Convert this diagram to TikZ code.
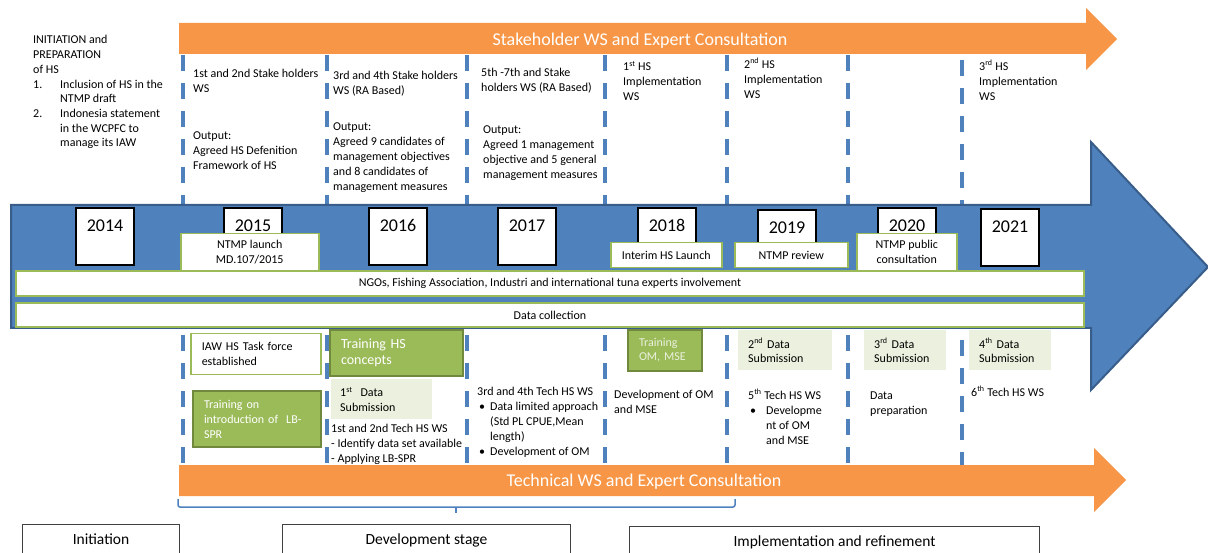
\documentclass[tikz,border=0pt]{standalone}
\usepackage{fontspec}
\setmainfont{Carlito}
\usetikzlibrary{positioning}
\definecolor{hsblue}{HTML}{4F81BD}
\definecolor{hsblueedge}{HTML}{385D8A}
\definecolor{hsorange}{HTML}{F79646}
\definecolor{hsgreen}{HTML}{9BBB59}
\definecolor{hsgreenedge}{HTML}{71893F}
\definecolor{hslight}{HTML}{EBF1DE}
\begin{document}
\begin{tikzpicture}[>=latex,x=1pt,y=-1pt,
    txt/.style={anchor=north west,inner sep=0pt,align=left,font=\fontsize{12}{15}\selectfont},
    txtlist/.style={anchor=north west,inner sep=0pt,font=\fontsize{12}{15}\selectfont},
    bigtxt/.style={text=white,font=\fontsize{18}{18}\selectfont},
    yearbox/.style={draw=black,line width=2pt,fill=white,anchor=north west,minimum width=58pt,
        text height=18pt,text depth=27pt,inner ysep=6pt,font=\fontsize{18}{18}\selectfont},
    evbox/.style={draw=hsgreen,line width=1.5pt,fill=white,anchor=north west,align=center,
        font=\fontsize{12}{15}\selectfont},
    barbox/.style={draw=hsgreen,line width=2pt,fill=white,anchor=north west,font=\fontsize{12}{14}\selectfont},
    grbox/.style={draw=hsgreenedge,line width=2pt,fill=hsgreen,text=white,anchor=north west,align=left,
        font=\fontsize{12}{15}\selectfont},
    litebox/.style={fill=hslight,anchor=north west,align=left,font=\fontsize{12}{14}\selectfont},
    stagebox/.style={draw=black!75,line width=1pt,anchor=north west,text height=16pt,text depth=24pt,
        inner ysep=4pt,font=\fontsize{15.5}{15.5}\selectfont},
    dashline/.style={hsblue,line width=4pt,dash pattern=on 16pt off 12pt}]
    \useasboundingbox (0,0) rectangle (1208,553);
    \clip (0,0) rectangle (1208,553);

    % stakeholder arrow
    \path (179,23) coordinate (S1) (1086,23) coordinate (S2) (1086,8) coordinate (S3) (1117,39) coordinate (S4)
    (1086,70) coordinate (S5) (1086,54) coordinate (S6) (179,54) coordinate (S7);
    \fill[hsorange] (S1)--(S2)--(S3)--(S4)--(S5)--(S6)--(S7)--cycle;

    \draw[dashline] (183,55)--(183,465) (327,55)--(327,465) (467,55)--(467,465) (605,55)--(605,465)
    (727,55)--(727,465) (848,55)--(848,465) (962,60)--(962,500);

    % timeline arrow
    \path (11,205) coordinate (B1) (1091,205) coordinate (B2) (1091,142) coordinate (B3) (1208,267) coordinate (B4)
    (1091,390) coordinate (B5) (1091,328) coordinate (B6) (11,328) coordinate (B7);
    \draw[hsblueedge,fill=hsblue,line width=2pt] (B1)--(B2)--(B3)--(B4)--(B5)--(B6)--(B7)--cycle;

    \node[yearbox] (y2014) at (75,207) {2014};
    \node[yearbox] (y2015) at (223,207) {2015};
    \node[yearbox] (y2016) at (368,207) {2016};
    \node[yearbox] (y2017) at (497,207) {2017};
    \node[yearbox] (y2018) at (637,207) {2018};
    \node[yearbox] (y2019) at (757,209) {2019};
    \node[yearbox] (y2020) at (877,207) {2020};
    \node[yearbox] (y2021) at (980,208) {2021};

    \node[evbox,minimum width=138pt,minimum height=37pt] (ntmp) at (180,233) {NTMP launch\\MD.107/2015};
    \node[evbox,minimum width=111pt,minimum height=25pt] (interim) at (610,242) {Interim HS Launch};
    \node[evbox,minimum width=113pt,minimum height=25pt] (review) at (734,242) {NTMP review};
    \node[evbox,minimum width=100pt,minimum height=37pt] (public) at (856,233) {NTMP public\\consultation};

    \node[barbox,minimum width=1068pt,minimum height=25pt] (ngo) at (15,270)
    {NGOs, Fishing Association, Industri and international tuna experts involvement};
    \node[barbox,minimum width=1068pt,minimum height=24pt] (datacol) at (15,302) {Data collection};

    % technical part
    \node[evbox,align=left,inner xsep=11pt,text width=108pt,minimum height=41pt] (iaw) at (190,333)
    {IAW HS Task force\\established};
    \node[grbox,inner xsep=11pt,text width=111pt,minimum height=46pt,font=\fontsize{14}{16.5}\selectfont] (trhs) at (329,329)
    {Training HS\\concepts};
    \node[grbox,inner xsep=11pt,text width=106pt,minimum height=56pt] (trlb) at (192,390)
    {Training on\\introduction of~~LB-\\SPR};
    \node[litebox,inner xsep=9pt,text width=83pt,minimum height=40pt,font=\fontsize{12}{15}\selectfont] (ds1) at (331,379)
    {1\textsuperscript{st}~~Data\\Submission};
    \node[grbox,inner xsep=11pt,text width=52pt,minimum height=41pt,text=hslight,font=\fontsize{12}{14}\selectfont] (trom) at (627,329)
    {Training\\OM, MSE};
    \node[litebox,inner xsep=10pt,text width=74pt,minimum height=40pt] (ds2) at (738,330) {2\textsuperscript{nd} Data\\Submission};
    \node[litebox,inner xsep=10pt,text width=62pt,minimum height=40pt] (ds3) at (864,330) {3\textsuperscript{rd} Data\\Submission};
    \node[litebox,inner xsep=10pt,text width=62pt,minimum height=40pt] (ds4) at (969,330) {4\textsuperscript{th} Data\\Submission};

    \path (179,465) coordinate (T1) (1094,465) coordinate (T2) (1094,448) coordinate (T3) (1126,480) coordinate (T4)
    (1094,512) coordinate (T5) (1094,496) coordinate (T6) (179,496) coordinate (T7);
    \fill[hsorange] (T1)--(T2)--(T3)--(T4)--(T5)--(T6)--(T7)--cycle;

    \node[bigtxt] (stakeT) at (640,41) {Stakeholder WS and Expert Consultation};
    \node[bigtxt] (techT) at (644,481.5) {Technical WS and Expert Consultation};

    % texts above the timeline
    \node[txtlist,font=\fontsize{12}{14.7}\selectfont] (initnote) at (33,33.5) {\begin{tabular}{@{}p{27pt}@{}l@{}}
        \multicolumn{2}{@{}l@{}}{INITIATION and}\\
        \multicolumn{2}{@{}l@{}}{PREPARATION}\\
        \multicolumn{2}{@{}l@{}}{of HS}\\
        1. & Inclusion of HS in the\\
           & NTMP draft\\
        2. & Indonesia statement\\
           & in the WCPFC to\\
           & manage its IAW
    \end{tabular}};
    \node[txt] (sh12) at (193,69) {1st and 2nd Stake holders\\WS};
    \node[txt] (out12) at (193,132) {Output:\\Agreed HS Defenition\\Framework of HS};
    \node[txt] (sh34) at (333,71) {3rd and 4th Stake holders\\WS (RA Based)};
    \node[txt] (out34) at (333,123) {Output:\\Agreed 9 candidates of\\management objectives\\and 8 candidates of\\management measures};
    \node[txt] (sh57) at (481,68) {5th -7th and Stake\\holders WS (RA Based)};
    \node[txt] (out57) at (483,126) {Output:\\Agreed 1 management\\objective and 5 general\\management measures};
    \node[txt] (impl1) at (623,61) {1\textsuperscript{st} HS\\Implementation\\WS};
    \node[txt] (impl2) at (744,58) {2\textsuperscript{nd} HS\\Implementation\\WS};
    \node[txt] (impl3) at (979,60) {3\textsuperscript{rd} HS\\Implementation\\WS};

    % texts below the timeline
    \node[txt] (tech12) at (331,424) {1st and 2nd Tech HS WS\\- Identify data set available\\- Applying LB-SPR};
    \node[txtlist] (tech34) at (477,384.5) {\begin{tabular}{@{}p{13pt}@{}l@{}}
        \multicolumn{2}{@{}l@{}}{3rd and 4th Tech HS WS}\\
        \hspace{2pt}\textbullet & Data limited approach\\
            & (Std PL CPUE,Mean\\
            & length)\\
        \hspace{2pt}\textbullet & Development of OM
    \end{tabular}};
    \node[txt] (devom) at (614,390) {Development of OM\\and MSE};
    \node[txtlist] (tech5) at (748,388.5) {\begin{tabular}{@{}p{18pt}@{}l@{}}
        \multicolumn{2}{@{}l@{}}{5\textsuperscript{th} Tech HS WS}\\
        \hspace{2pt}\textbullet & Developme\\
            & nt of OM\\
            & and MSE
    \end{tabular}};
    \node[txt] (dataprep) at (870,392) {Data\\preparation};
    \node[txt] (tech6) at (971,386) {6\textsuperscript{th} Tech HS WS};

    % stages
    \draw[hsblue,line width=1.5pt,rounded corners=2pt] (178,499) |- (456,507) -| (735,499);
    \draw[hsblue,line width=1.5pt] (456,507) -- (456,513);
    \node[stagebox,minimum width=157pt] (initst) at (22,524) {Initiation};
    \node[stagebox,minimum width=288pt] (devst) at (282,524) {Development stage};
    \node[stagebox,minimum width=410pt] (implst) at (629,526) {Implementation and refinement};
\end{tikzpicture}
\end{document}
